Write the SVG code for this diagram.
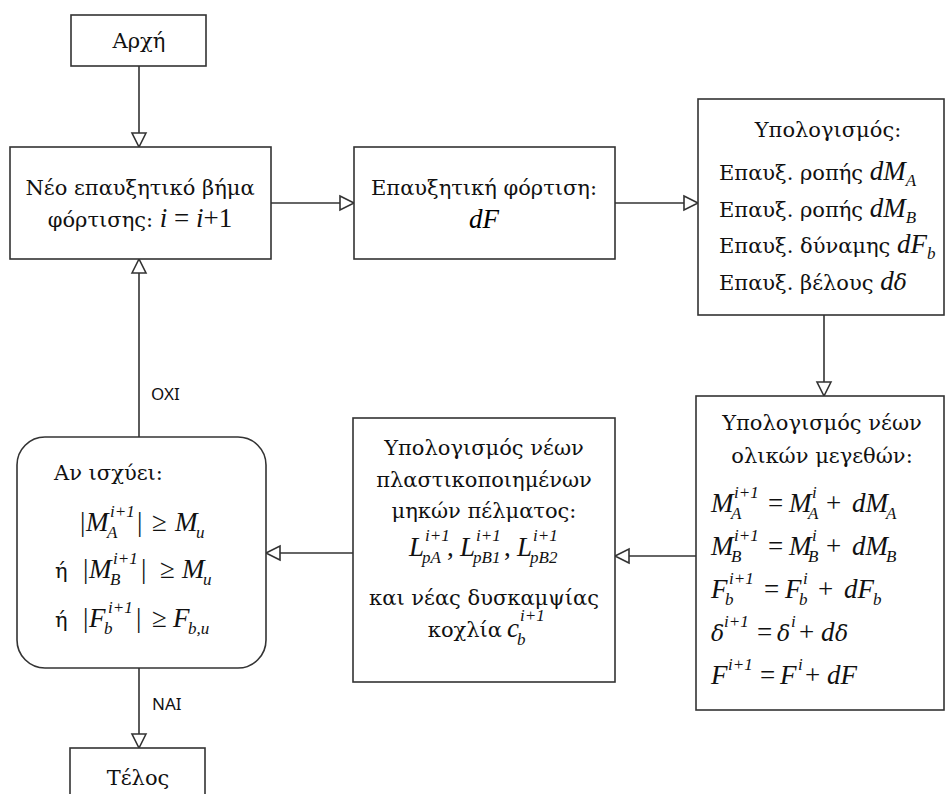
<svg xmlns="http://www.w3.org/2000/svg" width="946" height="794" viewBox="0 0 946 794">
<style>
.box{fill:#fff;stroke:#333;stroke-width:1.6}
.t{font-family:"DejaVu Serif","Liberation Serif",serif;font-size:21px;fill:#111}
.m{font-family:"Liberation Serif","DejaVu Serif",serif;font-size:27px;font-style:italic}
.u{font-family:"Liberation Serif","DejaVu Serif",serif;font-size:27px;font-style:normal;fill:#111}
.s{font-family:"Liberation Serif","DejaVu Serif",serif;font-size:17px;font-style:italic}
.g{font-family:"DejaVu Serif",serif;font-size:22px;font-style:italic}
.c{text-anchor:middle}
.lbl{font-family:"Noto Sans","DejaVu Sans",sans-serif;font-size:17px;fill:#111}
.ln{stroke:#333;stroke-width:1.6;fill:none}
</style>
<defs>
<marker id="ah" markerUnits="userSpaceOnUse" markerWidth="18" markerHeight="18" refX="14" refY="7" orient="auto" overflow="visible">
<path d="M0,0 L14,7 L0,14 Z" fill="#fff" stroke="#333" stroke-width="1.6"/>
</marker>
</defs>
<rect width="946" height="794" fill="#fff"/>

<g id="connectors">
<line class="ln" x1="139" y1="66" x2="139" y2="147" marker-end="url(#ah)"/>
<line class="ln" x1="271" y1="203" x2="354" y2="203" marker-end="url(#ah)"/>
<line class="ln" x1="615" y1="203" x2="698" y2="203" marker-end="url(#ah)"/>
<line class="ln" x1="824" y1="315" x2="824" y2="396" marker-end="url(#ah)"/>
<line class="ln" x1="696" y1="556" x2="615" y2="556" marker-end="url(#ah)"/>
<line class="ln" x1="353" y1="553" x2="266" y2="553" marker-end="url(#ah)"/>
<line class="ln" x1="139" y1="437" x2="139" y2="259" marker-end="url(#ah)"/>
<line class="ln" x1="139" y1="668" x2="139" y2="748" marker-end="url(#ah)"/>
<text class="lbl" x="151" y="400">ΟΧΙ</text>
<text class="lbl" x="152" y="710">ΝΑΙ</text>
</g>

<g id="start">
<rect class="box" x="71" y="15" width="135" height="51"/>
<text class="t c" x="139" y="48">Αρχή</text>
</g>

<g id="new-step">
<rect class="box" x="10" y="147" width="261" height="112"/>
<text class="t c" x="140" y="195">Νέο επαυξητικό βήμα</text>
<text class="t c" x="140" y="227">φόρτισης: <tspan class="m">i</tspan><tspan class="u"> = </tspan><tspan class="m">i</tspan><tspan class="u">+1</tspan></text>
</g>

<g id="incr-load">
<rect class="box" x="354" y="147" width="261" height="112"/>
<text class="t c" x="484" y="195">Επαυξητική φόρτιση:</text>
<text class="m c" x="484" y="228">dF</text>
</g>

<g id="calc-incr">
<rect class="box" x="698" y="99" width="246" height="216"/>
<text class="t c" x="828" y="137">Υπολογισμός:</text>
<text class="t" x="719" y="180">Επαυξ. ροπής <tspan class="m">dM</tspan><tspan class="s" dy="6">A</tspan></text>
<text class="t" x="719" y="217">Επαυξ. ροπής <tspan class="m">dM</tspan><tspan class="s" dy="6">B</tspan></text>
<text class="t" x="719" y="253">Επαυξ. δύναμης <tspan class="m">dF</tspan><tspan class="s" dy="6">b</tspan></text>
<text class="t" x="719" y="290">Επαυξ. βέλους <tspan class="m">d</tspan><tspan class="g">δ</tspan></text>
</g>

<g id="calc-totals">
<rect class="box" x="696" y="396" width="248" height="314"/>
<text class="t c" x="822" y="430">Υπολογισμός νέων</text>
<text class="t c" x="822" y="463">ολικών μεγεθών:</text>
<text class="u"><tspan class="m" x="711" y="512">M</tspan><tspan class="s" x="734" y="498">i+1</tspan><tspan class="s" x="731" y="519">A</tspan><tspan x="768" y="512">=</tspan><tspan class="m" x="789" y="512">M</tspan><tspan class="s" x="812" y="498">i</tspan><tspan class="s" x="808" y="519">A</tspan><tspan x="826" y="512">+</tspan><tspan class="m" x="852" y="512">dM</tspan><tspan class="s" x="886" y="519">A</tspan></text>
<text class="u"><tspan class="m" x="711" y="555">M</tspan><tspan class="s" x="734" y="541">i+1</tspan><tspan class="s" x="731" y="562">B</tspan><tspan x="768" y="555">=</tspan><tspan class="m" x="789" y="555">M</tspan><tspan class="s" x="812" y="541">i</tspan><tspan class="s" x="808" y="562">B</tspan><tspan x="826" y="555">+</tspan><tspan class="m" x="852" y="555">dM</tspan><tspan class="s" x="886" y="562">B</tspan></text>
<text class="u"><tspan class="m" x="711" y="598">F</tspan><tspan class="s" x="729" y="584">i+1</tspan><tspan class="s" x="725" y="605">b</tspan><tspan x="764" y="598">=</tspan><tspan class="m" x="785" y="598">F</tspan><tspan class="s" x="803" y="584">i</tspan><tspan class="s" x="799" y="605">b</tspan><tspan x="818" y="598">+</tspan><tspan class="m" x="844" y="598">dF</tspan><tspan class="s" x="873" y="605">b</tspan></text>
<text class="u"><tspan class="g" x="711" y="641">δ</tspan><tspan class="s" x="724" y="627">i+1</tspan><tspan x="757" y="641">=</tspan><tspan class="g" x="777" y="641">δ</tspan><tspan class="s" x="791" y="627">i</tspan><tspan x="799" y="641">+</tspan><tspan class="m" x="821" y="641">d</tspan><tspan class="g" x="835" y="641">δ</tspan></text>
<text class="u"><tspan class="m" x="711" y="684">F</tspan><tspan class="s" x="728" y="670">i+1</tspan><tspan x="760" y="684">=</tspan><tspan class="m" x="780" y="684">F</tspan><tspan class="s" x="798" y="670">i</tspan><tspan x="805" y="684">+</tspan><tspan class="m" x="827" y="684">dF</tspan></text>
</g>

<g id="calc-plastic">
<rect class="box" x="353" y="418" width="262" height="264"/>
<text class="t c" x="484" y="455">Υπολογισμός νέων</text>
<text class="t c" x="484" y="487">πλαστικοποιημένων</text>
<text class="t c" x="484" y="518">μηκών πέλματος:</text>
<text class="u"><tspan class="m" x="409" y="556">L</tspan><tspan class="s" x="425" y="541">i+1</tspan><tspan class="s" x="422" y="563">pA</tspan><tspan x="447" y="556">,</tspan><tspan class="m" x="460" y="556">L</tspan><tspan class="s" x="476" y="541">i+1</tspan><tspan class="s" x="473" y="563">pB1</tspan><tspan x="504" y="556">,</tspan><tspan class="m" x="517" y="556">L</tspan><tspan class="s" x="533" y="541">i+1</tspan><tspan class="s" x="530" y="563">pB2</tspan></text>
<text class="t c" x="484" y="605">και νέας δυσκαμψίας</text>
<text class="t" x="502" y="637" text-anchor="end">κοχλία</text>
<text class="u"><tspan class="m" x="507" y="637">c</tspan><tspan class="s" x="520" y="621">i+1</tspan><tspan class="s" x="517" y="645">b</tspan></text>
</g>

<g id="check">
<rect class="box" x="17" y="437" width="249" height="231" rx="28" ry="28"/>
<text class="t" x="54" y="480">Αν ισχύει:</text>
<text class="u"><tspan x="80" y="531">|</tspan><tspan class="m" x="86" y="531">M</tspan><tspan class="s" x="110" y="517">i+1</tspan><tspan class="s" x="107" y="538">A</tspan><tspan x="137" y="531">|</tspan><tspan x="152" y="531">≥</tspan><tspan class="m" x="175" y="531">M</tspan><tspan class="s" x="196" y="538">u</tspan></text>
<text class="u"><tspan class="t" x="55" y="578">ή</tspan><tspan x="83" y="578">|</tspan><tspan class="m" x="89" y="578">M</tspan><tspan class="s" x="113" y="564">i+1</tspan><tspan class="s" x="110" y="585">B</tspan><tspan x="141" y="578">|</tspan><tspan x="160" y="578">≥</tspan><tspan class="m" x="182" y="578">M</tspan><tspan class="s" x="203" y="585">u</tspan></text>
<text class="u"><tspan class="t" x="55" y="627">ή</tspan><tspan x="83" y="627">|</tspan><tspan class="m" x="89" y="627">F</tspan><tspan class="s" x="108" y="613">i+1</tspan><tspan class="s" x="104" y="634">b</tspan><tspan x="136" y="627">|</tspan><tspan x="152" y="627">≥</tspan><tspan class="m" x="173" y="627">F</tspan><tspan class="s" x="188" y="634">b,u</tspan></text>
</g>

<g id="end">
<rect class="box" x="70" y="748" width="135" height="52"/>
<text class="t c" x="138" y="785">Τέλος</text>
</g>
</svg>
